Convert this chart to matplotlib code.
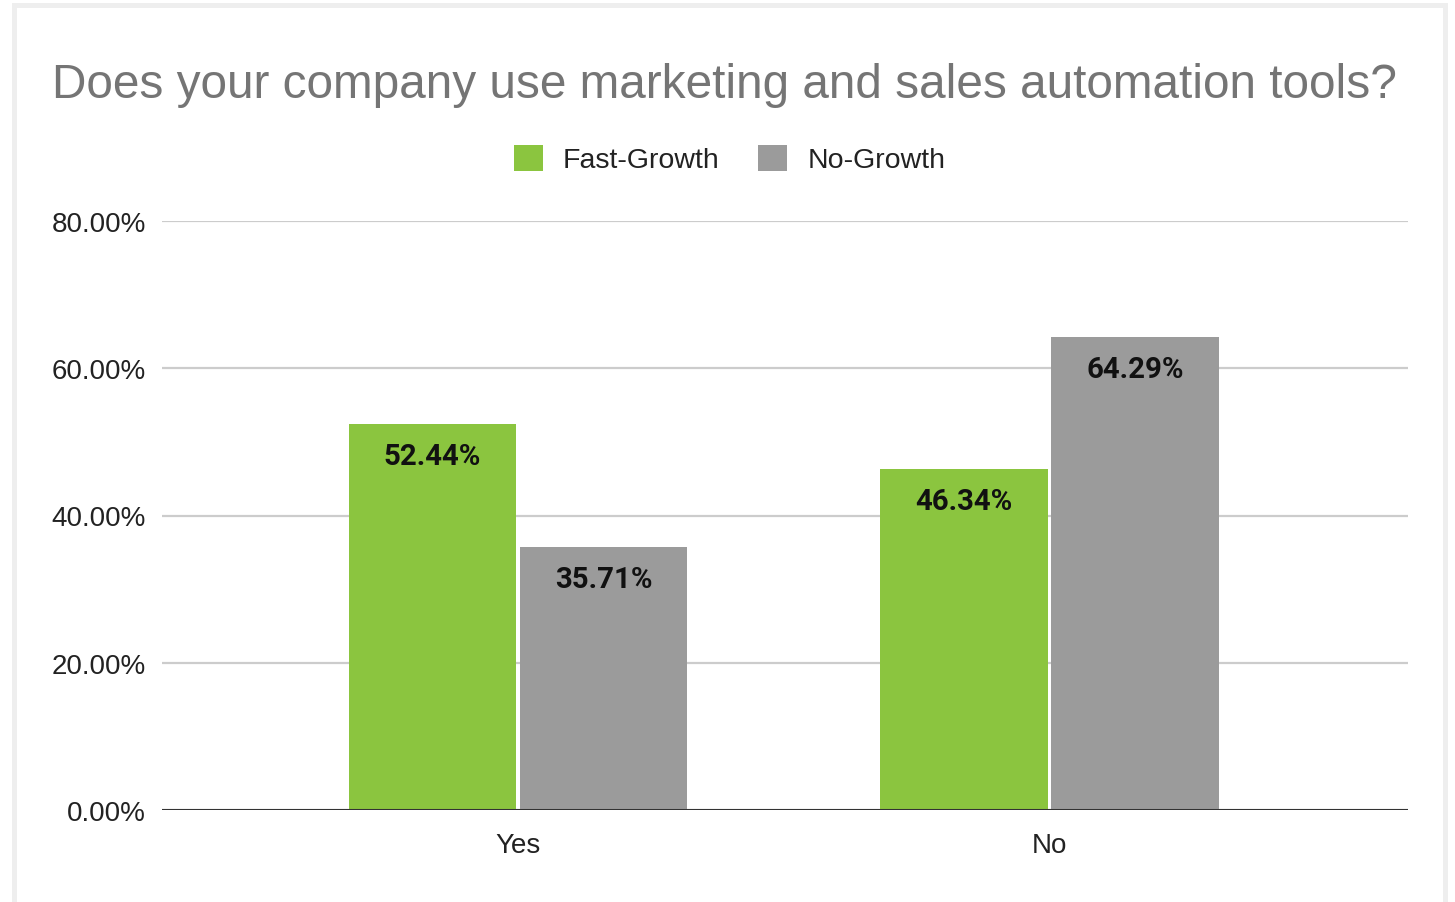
import matplotlib
matplotlib.use("Agg")
import matplotlib.pyplot as plt
from matplotlib.patches import Patch, Rectangle
import numpy as np

categories = ["Yes", "No"]
fast_growth = [52.44, 46.34]
no_growth = [35.71, 64.29]
series_names = ["Fast-Growth", "No-Growth"]
y_ticks = [0, 20, 40, 60, 80]

GREEN = "#8bc53f"
GRAY = "#9b9b9b"

plt.rcParams["font.family"] = ["Liberation Sans", "DejaVu Sans"]

fig = plt.figure(figsize=(14.55, 9.03), dpi=100)
fig.patch.set_facecolor("white")

# light card border around the chart
fig.add_artist(Rectangle((14.5 / 1455, -0.05), (1444.5 - 14.5) / 1455, 1.05 - 5.5 / 903,
                         transform=fig.transFigure, fill=False,
                         edgecolor="#eeeeee", linewidth=3.6))

ax = fig.add_axes([162 / 1455, 1 - 811 / 903, (1408 - 162) / 1455, (811 - 222) / 903])

x = np.arange(len(categories))
width = 0.316
offset = 0.161
bars_fast = ax.bar(x - offset, fast_growth, width, color=GREEN, zorder=3)
bars_no = ax.bar(x + offset, no_growth, width, color=GRAY, zorder=3)

for bars, values in ((bars_fast, fast_growth), (bars_no, no_growth)):
    for bar, v in zip(bars, values):
        ax.annotate(f"{v:.2f}%", (bar.get_x() + bar.get_width() / 2, v),
                    xytext=(0, -23), textcoords="offset points",
                    ha="center", va="center", fontsize=21.2,
                    fontweight="bold", family="Roboto", color="#111111", zorder=4)

ax.set_xlim(-0.67, 1.675)
ax.set_ylim(0, 80)
ax.set_yticks(y_ticks)
ax.set_yticklabels([f"{t:.2f}%" for t in y_ticks])
ax.set_xticks(x)
ax.set_xticklabels(categories)
ax.tick_params(axis="both", length=0, labelsize=20, labelcolor="#222222")
ax.tick_params(axis="y", pad=11.5)
ax.tick_params(axis="x", pad=16)

ax.yaxis.grid(True, color="#cccccc", linewidth=1.6, zorder=0)
ax.set_axisbelow(True)
for side in ("top", "right", "left", "bottom"):
    ax.spines[side].set_visible(False)
ax.axhline(0, color="#333333", linewidth=2.2, zorder=5)

fig.text(724.5 / 1455, 1 - 86 / 903,
         "Does your company use marketing and sales automation tools?",
         ha="center", va="center", fontsize=34.4, color="#757575")

handles = [Patch(facecolor=GREEN), Patch(facecolor=GRAY)]
fig.legend(handles, series_names, loc="center", bbox_to_anchor=(729.5 / 1455, 1 - 160 / 903),
           ncol=2, frameon=False, fontsize=20.5, handlelength=1.02, handleheight=1.02,
           handletextpad=0.7, columnspacing=1.37, labelcolor="#222222")

fig.savefig("out.png", dpi=100, facecolor="white")
